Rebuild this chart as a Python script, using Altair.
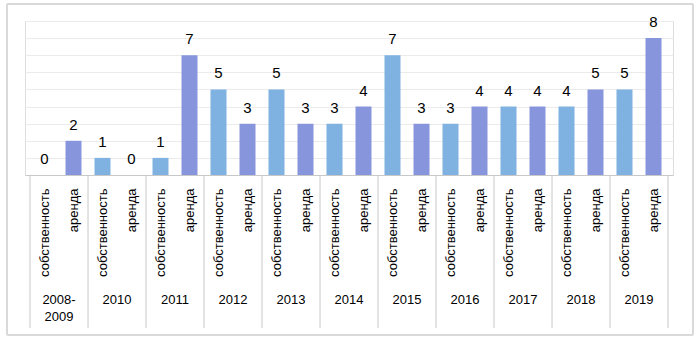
import altair as alt
import pandas as pd

years = ["2008-2009", "2010", "2011", "2012", "2013", "2014", "2015", "2016", "2017", "2018", "2019"]
types = ["собственность", "аренда"]
own = [0, 1, 1, 5, 5, 3, 7, 3, 4, 4, 5]
rent = [2, 0, 7, 3, 3, 4, 3, 4, 4, 5, 8]
colors = ["#7FB2E0", "#8796DC"]

rows = []
for i, y in enumerate(years):
    for j, (t, v) in enumerate(zip(types, [own[i], rent[i]])):
        rows.append({"year": y, "type": t, "value": v, "pos": 2 * i + j + 0.5})
df = pd.DataFrame(rows)

grp = pd.DataFrame({"year": [y.replace("-", "-\n") for y in years],
                    "center": [2 * i + 1 for i in range(len(years))]})
bounds = pd.DataFrame({"b": [2 * i for i in range(len(years) + 1)]})

W, H = 648, 154
FONT = "Liberation Sans"

xscale = alt.Scale(domain=[0, 22], nice=False, zero=False)
yscale = alt.Scale(domain=[0, 9], nice=False)

xaxis = alt.Axis(values=[i + 0.5 for i in range(22)], labelAngle=270,
                 labelExpr="floor(datum.value) % 2 == 0 ? 'собственность' : 'аренда'",
                 ticks=False, domain=True, domainColor="#C8C8C8", grid=False,
                 labelPadding=13, labelFont=FONT, labelFontSize=13,
                 labelColor="#000000", title=None, labelOverlap=False, labelBound=False,
                 labelFlush=False)
yaxis = alt.Axis(values=list(range(10)), labels=False, ticks=False, domain=False,
                 grid=True, gridColor="#EBEBEB", title=None)

bars = alt.Chart(df).mark_bar(size=16).encode(
    x=alt.X("pos:Q", scale=xscale, axis=xaxis),
    y=alt.Y("value:Q", scale=yscale, axis=yaxis),
    color=alt.Color("type:N", scale=alt.Scale(domain=types, range=colors), legend=None),
)

labels = alt.Chart(df).mark_text(dy=-16, fontSize=15, font=FONT, color="#000000").encode(
    x=alt.X("pos:Q", scale=xscale, axis=xaxis),
    y=alt.Y("value:Q", scale=yscale, axis=yaxis),
    text="value:Q",
)

seps = alt.Chart(bounds).mark_rule(color="#C8C8C8", strokeWidth=1).encode(
    x=alt.X("b:Q", scale=xscale, axis=xaxis),
    y=alt.value(H),
    y2=alt.value(H + 153),
)

yearlab = alt.Chart(grp).mark_text(fontSize=13, font=FONT, color="#000000",
                                   baseline="middle", lineBreak="\n", lineHeight=17).encode(
    x=alt.X("center:Q", scale=xscale, axis=xaxis),
    y=alt.value(H + 125),
    text="year:N",
)

frame = alt.Chart(grp).mark_rect(fill=None, stroke="#D9D9D9", strokeWidth=1).encode(
    x=alt.value(-18), x2=alt.value(W + 20), y=alt.value(-17), y2=alt.value(H + 160)
)

chart = alt.layer(frame, bars, labels, seps, yearlab).properties(
    width=W, height=H,
    autosize=alt.AutoSizeParams(type="none"),
    padding={"left": 25, "top": 21, "right": 26, "bottom": 165},
).configure_view(stroke=None).configure(background="white")

chart.save("out.html", embed_options={"renderer": "svg", "actions": False})
